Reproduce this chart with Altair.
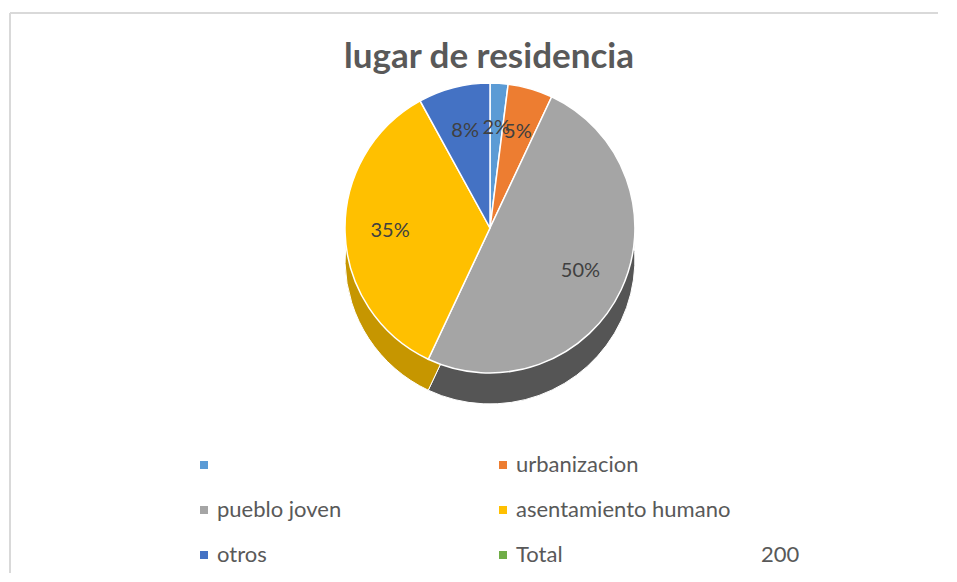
import altair as alt
import pandas as pd

# ---- data ----
categories = [" ", "urbanizacion", "pueblo joven", "asentamiento humano", "otros", "Total"]
slice_categories = [" ", "urbanizacion", "pueblo joven", "asentamiento humano", "otros"]
counts = [4, 10, 100, 70, 16]
colors = ["#5B9BD5", "#ED7D31", "#A5A5A5", "#FFC000", "#4472C4", "#70AD47"]
side_colors = ["#3E74A8", "#B45A1F", "#555555", "#C69600", "#2F5597", "#507E32"]

total = sum(counts)
total_label = "Total" + "\u2003" * 11 + "\u00a0" * 3 + str(total)

df = pd.DataFrame({
    "categoria": slice_categories,
    "valor": counts,
    "orden": list(range(len(counts))),
})

# ---- layout (plot coords = page coords minus (10, 13)) ----
W, H = 928, 560
CX, CY = 480, 215
R = 145
DEPTH = 31
FONT = "Lato"

base = alt.Chart(df).transform_joinaggregate(
    total="sum(valor)"
).transform_calculate(
    pct="format(datum.valor / datum.total, '.0%')"
)

theta = alt.Theta("valor:Q", stack=True)
order = alt.Order("orden:Q", sort="ascending")

side = base.mark_arc(radius=R, stroke="white", strokeWidth=1).encode(
    theta=theta,
    order=order,
    color=alt.Color("categoria:N",
                    scale=alt.Scale(domain=categories, range=side_colors),
                    legend=None),
    x=alt.value(CX),
    y=alt.value(CY + DEPTH),
)

top = base.mark_arc(radius=R, stroke="white", strokeWidth=1.5).encode(
    theta=theta,
    order=order,
    color=alt.Color(
        "categoria:N",
        scale=alt.Scale(domain=categories, range=colors),
        legend=alt.Legend(
            title=None,
            orient="none",
            direction="horizontal",
            legendX=183,
            legendY=441,
            columns=2,
            columnPadding=150,
            rowPadding=23,
            symbolType="square",
            symbolSize=64,
            symbolStrokeWidth=0,
            labelFont=FONT,
            labelFontSize=22,
            labelColor="#595959",
            labelOffset=2,
            labelLimit=500,
            labelExpr=f"datum.label == 'Total' ? '{total_label}' : datum.label",
        ),
    ),
    x=alt.value(CX),
    y=alt.value(CY),
)

labels = base.mark_text(radius=100, fontSize=20, font=FONT, color="#404040").encode(
    theta=theta,
    order=order,
    text="pct:N",
    x=alt.value(CX),
    y=alt.value(CY),
)

frame_src = alt.Chart(df).transform_filter("datum.orden == 0")
frame_top = frame_src.mark_rule(color="#D9D9D9", strokeWidth=2).encode(
    x=alt.value(0), x2=alt.value(W + 20), y=alt.value(0)
)
frame_left = frame_src.mark_rule(color="#D9D9D9", strokeWidth=2).encode(
    x=alt.value(0), y=alt.value(0), y2=alt.value(H + 20)
)

chart = alt.layer(frame_top, frame_left, side, top, labels).resolve_scale(
    color="independent"
).properties(
    width=W,
    height=H,
    padding={"left": 2, "top": 5, "right": 0, "bottom": 0},
    autosize=alt.AutoSizeParams(type="none"),
    title=alt.TitleParams(
        "lugar de residencia",
        font=FONT,
        fontSize=35,
        fontWeight="bold",
        color="#595959",
        anchor="middle",
        baseline="alphabetic",
        offset=0,
        dy=91,
        dx=15,
    ),
).configure_view(stroke=None)

chart.save("out.html", embed_options={"renderer": "svg", "actions": False})
